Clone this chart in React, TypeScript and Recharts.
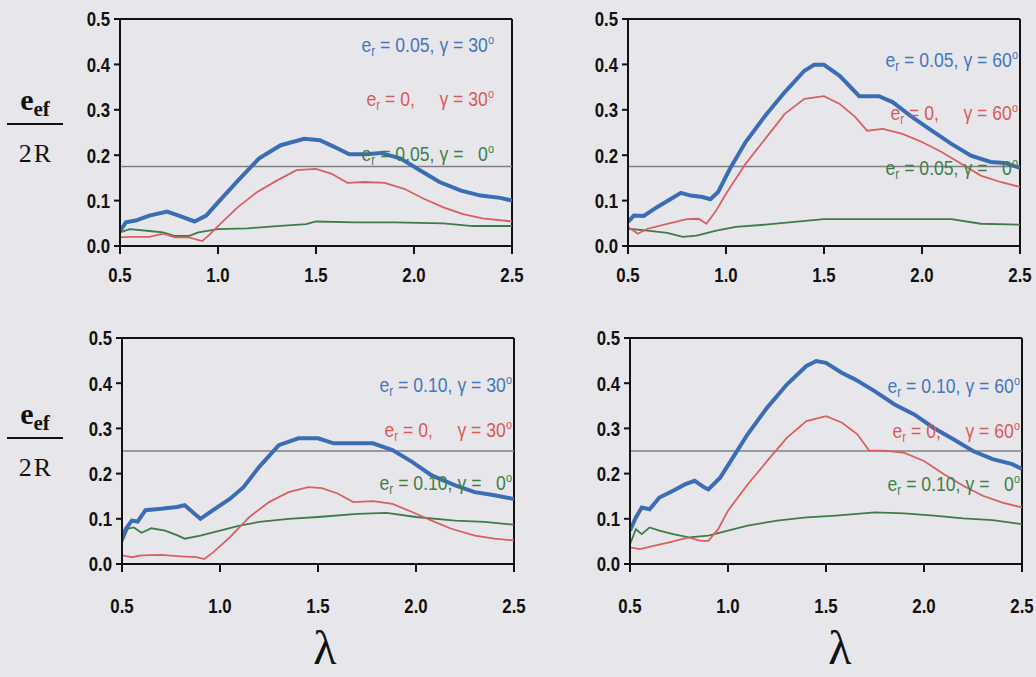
import { LineChart, Line, XAxis, YAxis, ReferenceLine } from "recharts";

// λ sample points and e_ef/2R readings, one pair of arrays per curve
const p1BlueLam = [0.5, 0.53, 0.58, 0.65, 0.74, 0.8, 0.88, 0.94, 1.0, 1.11, 1.21, 1.32, 1.44, 1.52, 1.59, 1.67, 1.76, 1.83, 1.93, 2.03, 2.13, 2.24, 2.34, 2.44, 2.5];
const p1Blue = [0.033, 0.052, 0.056, 0.067, 0.076, 0.067, 0.054, 0.067, 0.096, 0.148, 0.193, 0.222, 0.236, 0.233, 0.219, 0.202, 0.202, 0.205, 0.193, 0.167, 0.141, 0.122, 0.111, 0.106, 0.1];
const p1RedLam = [0.5, 0.55, 0.65, 0.72, 0.78, 0.85, 0.92, 0.96, 1.0, 1.1, 1.2, 1.3, 1.4, 1.5, 1.58, 1.66, 1.75, 1.85, 1.95, 2.05, 2.15, 2.25, 2.35, 2.5];
const p1Red = [0.019, 0.02, 0.02, 0.027, 0.019, 0.019, 0.011, 0.026, 0.044, 0.085, 0.119, 0.144, 0.167, 0.17, 0.159, 0.139, 0.141, 0.139, 0.126, 0.104, 0.085, 0.07, 0.061, 0.054];
const p1GreenLam = [0.5, 0.55, 0.65, 0.72, 0.78, 0.85, 0.9, 1.0, 1.15, 1.3, 1.45, 1.5, 1.7, 1.9, 2.15, 2.3, 2.5];
const p1Green = [0.03, 0.037, 0.033, 0.03, 0.022, 0.022, 0.03, 0.037, 0.039, 0.044, 0.048, 0.054, 0.052, 0.052, 0.05, 0.044, 0.044];

const p2BlueLam = [0.5, 0.53, 0.58, 0.65, 0.72, 0.77, 0.82, 0.88, 0.92, 0.96, 1.02, 1.1, 1.2, 1.3, 1.4, 1.45, 1.5, 1.58, 1.68, 1.78, 1.85, 1.95, 2.05, 2.15, 2.25, 2.35, 2.42, 2.5];
const p2Blue = [0.053, 0.067, 0.066, 0.086, 0.104, 0.117, 0.111, 0.108, 0.103, 0.119, 0.17, 0.229, 0.287, 0.339, 0.386, 0.399, 0.399, 0.375, 0.33, 0.33, 0.317, 0.284, 0.254, 0.225, 0.199, 0.185, 0.183, 0.172];
const p2RedLam = [0.5, 0.55, 0.6, 0.7, 0.8, 0.86, 0.9, 0.95, 1.0, 1.1, 1.2, 1.3, 1.4, 1.5, 1.58, 1.66, 1.72, 1.8, 1.9, 2.0, 2.1, 2.2, 2.3, 2.4, 2.5];
const p2Red = [0.042, 0.027, 0.038, 0.049, 0.059, 0.06, 0.049, 0.078, 0.115, 0.181, 0.236, 0.291, 0.324, 0.33, 0.313, 0.284, 0.254, 0.258, 0.247, 0.229, 0.207, 0.181, 0.155, 0.141, 0.13];
const p2GreenLam = [0.5, 0.6, 0.7, 0.78, 0.85, 0.95, 1.05, 1.2, 1.35, 1.5, 1.7, 2.0, 2.15, 2.3, 2.5];
const p2Green = [0.038, 0.034, 0.029, 0.02, 0.023, 0.034, 0.042, 0.047, 0.053, 0.059, 0.059, 0.059, 0.059, 0.049, 0.047];

const p3BlueLam = [0.5, 0.52, 0.55, 0.58, 0.62, 0.7, 0.78, 0.82, 0.87, 0.9, 0.95, 1.05, 1.12, 1.2, 1.3, 1.4, 1.5, 1.58, 1.68, 1.78, 1.88, 1.98, 2.08, 2.2, 2.3, 2.4, 2.5];
const p3Blue = [0.056, 0.078, 0.096, 0.094, 0.119, 0.122, 0.126, 0.13, 0.111, 0.1, 0.115, 0.144, 0.17, 0.215, 0.263, 0.278, 0.278, 0.267, 0.267, 0.267, 0.252, 0.226, 0.196, 0.174, 0.159, 0.152, 0.144];
const p3RedLam = [0.5, 0.55, 0.6, 0.7, 0.8, 0.88, 0.92, 0.96, 1.05, 1.15, 1.25, 1.35, 1.45, 1.52, 1.6, 1.68, 1.78, 1.88, 1.98, 2.08, 2.18, 2.3, 2.4, 2.5];
const p3Red = [0.019, 0.015, 0.019, 0.02, 0.017, 0.015, 0.011, 0.024, 0.059, 0.104, 0.137, 0.159, 0.17, 0.168, 0.156, 0.137, 0.139, 0.133, 0.115, 0.096, 0.078, 0.063, 0.056, 0.052];
const p3GreenLam = [0.5, 0.53, 0.56, 0.6, 0.65, 0.72, 0.78, 0.82, 0.9, 1.0, 1.1, 1.2, 1.35, 1.5, 1.7, 1.85, 2.0, 2.2, 2.35, 2.5];
const p3Green = [0.048, 0.078, 0.081, 0.069, 0.079, 0.074, 0.064, 0.056, 0.063, 0.074, 0.085, 0.093, 0.1, 0.104, 0.111, 0.113, 0.104, 0.096, 0.093, 0.087];

const p4BlueLam = [0.5, 0.53, 0.56, 0.6, 0.65, 0.72, 0.78, 0.83, 0.88, 0.9, 0.96, 1.02, 1.1, 1.2, 1.3, 1.4, 1.45, 1.5, 1.58, 1.65, 1.75, 1.85, 1.95, 2.05, 2.15, 2.25, 2.35, 2.45, 2.5];
const p4Blue = [0.074, 0.103, 0.125, 0.121, 0.147, 0.162, 0.176, 0.184, 0.169, 0.165, 0.191, 0.232, 0.287, 0.346, 0.397, 0.438, 0.449, 0.445, 0.423, 0.408, 0.382, 0.353, 0.331, 0.301, 0.276, 0.25, 0.232, 0.221, 0.21];
const p4RedLam = [0.5, 0.55, 0.62, 0.7, 0.8, 0.86, 0.9, 0.95, 1.0, 1.1, 1.2, 1.3, 1.4, 1.5, 1.58, 1.66, 1.72, 1.8, 1.9, 2.0, 2.1, 2.2, 2.3, 2.4, 2.5];
const p4Red = [0.037, 0.033, 0.04, 0.048, 0.059, 0.051, 0.051, 0.077, 0.118, 0.176, 0.228, 0.279, 0.316, 0.327, 0.313, 0.287, 0.251, 0.251, 0.246, 0.228, 0.199, 0.173, 0.151, 0.136, 0.125];
const p4GreenLam = [0.5, 0.53, 0.56, 0.6, 0.65, 0.72, 0.8, 0.9, 1.0, 1.1, 1.25, 1.4, 1.55, 1.75, 1.9, 2.05, 2.2, 2.35, 2.5];
const p4Green = [0.044, 0.077, 0.066, 0.081, 0.074, 0.066, 0.059, 0.063, 0.074, 0.085, 0.096, 0.103, 0.107, 0.114, 0.112, 0.107, 0.101, 0.097, 0.088];

const lamTicks = [0.5, 1.0, 1.5, 2.0, 2.5];
const valTicks = [0, 0.1, 0.2, 0.3, 0.4, 0.5];

// horizontal threshold level per row
const thresholdTop = 0.175;
const thresholdBottom = 0.25;

// legend wording: e_r value and γ angle of each curve ("|" wraps the subscript)
const legendTopLeft = ["e|r| = 0.05, γ = 30", "e|r| = 0,     γ = 30", "e|r| = 0.05, γ =   0"];
const legendTopRight = ["e|r| = 0.05, γ = 60", "e|r| = 0,     γ = 60", "e|r| = 0.05, γ =   0"];
const legendBottomLeft = ["e|r| = 0.10, γ = 30", "e|r| = 0,     γ = 30", "e|r| = 0.10, γ =   0"];
const legendBottomRight = ["e|r| = 0.10, γ = 60", "e|r| = 0,     γ = 60", "e|r| = 0.10, γ =   0"];

const BG = "#e7e7eb";
const INK = "#111";
const BLUE = "#3b6db6";
const RED = "#d9605f";
const GREEN = "#3d7b47";
const LEGEND_COLORS = ["#4575be", "#db5a5a", "#3e7f47"];
const SANS = "'Liberation Sans', Arial, sans-serif";
const SERIF = "'Liberation Serif', 'Times New Roman', serif";
// no condensed face installed, so text is squeezed horizontally instead
const SQUEEZE = 0.8;

type Pt = { lam: number; v: number };
const toPts = (lam: number[], v: number[]): Pt[] => lam.map((l, i) => ({ lam: l, v: v[i] }));

const XTick = ({ x, y, payload }: any) => (
    <g transform={`translate(${x},${y}) scale(${SQUEEZE},1)`}>
        <text x={0} y={0} dy="0.71em" textAnchor="middle" fill={INK} fontFamily={SANS} fontWeight={700} fontSize={21}>
            {Number(payload.value).toFixed(1)}
        </text>
    </g>
);

const YTick = ({ x, y, payload }: any) => (
    <g transform={`translate(${x},${y}) scale(${SQUEEZE},1)`}>
        <text x={0} y={0} dy="0.355em" textAnchor="end" fill={INK} fontFamily={SANS} fontWeight={700} fontSize={21}>
            {Number(payload.value).toFixed(1)}
        </text>
    </g>
);

interface PanelProps {
    left: number;
    top: number;
    height: number;
    marginTop: number;
    xAxisHeight: number;
    tickGap: number;
    blue: Pt[];
    red: Pt[];
    green: Pt[];
    threshold: number;
}

const Panel = ({ left, top, height, marginTop, xAxisHeight, tickGap, blue, red, green, threshold }: PanelProps) => (
    <div style={{ position: "absolute", left, top }}>
        <LineChart width={480} height={height} margin={{ top: marginTop, right: 32, left: 0, bottom: 0 }}>
            <XAxis
                type="number"
                dataKey="lam"
                domain={[0.5, 2.5]}
                ticks={lamTicks}
                interval={0}
                allowDataOverflow
                height={xAxisHeight}
                tickSize={8}
                tickMargin={tickGap}
                axisLine={{ stroke: INK, strokeWidth: 2 }}
                tickLine={{ stroke: INK, strokeWidth: 2 }}
                tick={<XTick />}
            />
            <YAxis
                type="number"
                domain={[0, 0.5]}
                ticks={valTicks}
                interval={0}
                allowDataOverflow
                width={56}
                tickSize={6}
                tickMargin={4}
                axisLine={{ stroke: INK, strokeWidth: 2 }}
                tickLine={{ stroke: INK, strokeWidth: 2 }}
                tick={<YTick />}
            />
            {/* box frame: top and right edges */}
            <ReferenceLine y={0.5} stroke={INK} strokeWidth={2} ifOverflow="visible" />
            <ReferenceLine x={2.5} stroke={INK} strokeWidth={2} ifOverflow="visible" />
            <ReferenceLine y={threshold} stroke="#7d7f80" strokeWidth={1.5} />
            <Line data={green} dataKey="v" type="linear" stroke={GREEN} strokeWidth={1.8} dot={false} isAnimationActive={false} />
            <Line data={red} dataKey="v" type="linear" stroke={RED} strokeWidth={1.8} dot={false} isAnimationActive={false} />
            <Line data={blue} dataKey="v" type="linear" stroke={BLUE} strokeWidth={4} dot={false} isAnimationActive={false} />
        </LineChart>
    </div>
);

// "e|r| rest" -> e with subscript r, then the rest and a degree mark
const LegendLine = ({ text, x, y, color }: { text: string; x: number; y: number; color: string }) => {
    const [head, sub, rest] = text.split("|");
    return (
        <g transform={`translate(${x},${y}) scale(0.84,1)`}>
            <text x={0} y={0} textAnchor="end" fill={color} fontFamily={SANS} fontSize={21} xmlSpace="preserve">
                {head}
                <tspan fontSize={14} dy={4}>{sub}</tspan>
                <tspan dy={-4}>{rest}</tspan>
                <tspan fontSize={13} dy={-8}>o</tspan>
            </text>
        </g>
    );
};

const Legend = ({ lines, x, ys }: { lines: string[]; x: number; ys: number[] }) => (
    <g>
        {lines.map((t, i) => (
            <LegendLine key={i} text={t} x={x} y={ys[i]} color={LEGEND_COLORS[i]} />
        ))}
    </g>
);

const YLabel = ({ y }: { y: number }) => (
    <g>
        <text x={35} y={y} textAnchor="middle" fontFamily={SERIF} fontWeight={700} fontSize={30} fill={INK}>
            e<tspan fontSize={21} dy={6}>ef</tspan>
        </text>
        <line x1={7} x2={63} y1={y + 14} y2={y + 14} stroke={INK} strokeWidth={2} />
        <text x={36} y={y + 52} textAnchor="middle" fontFamily={SERIF} fontSize={26} letterSpacing={2} fill={INK}>
            2R
        </text>
    </g>
);

export default function App() {
    return (
        <div style={{ position: "fixed", left: 0, top: 0, width: 1036, height: 677, background: BG, overflow: "hidden" }}>
            <Panel left={64} top={0} height={300} marginTop={19} xAxisHeight={54} tickGap={13} threshold={thresholdTop}
                blue={toPts(p1BlueLam, p1Blue)} red={toPts(p1RedLam, p1Red)} green={toPts(p1GreenLam, p1Green)} />
            <Panel left={572} top={0} height={300} marginTop={19} xAxisHeight={54} tickGap={13} threshold={thresholdTop}
                blue={toPts(p2BlueLam, p2Blue)} red={toPts(p2RedLam, p2Red)} green={toPts(p2GreenLam, p2Green)} />
            <Panel left={66} top={300} height={330} marginTop={38} xAxisHeight={66} tickGap={26} threshold={thresholdBottom}
                blue={toPts(p3BlueLam, p3Blue)} red={toPts(p3RedLam, p3Red)} green={toPts(p3GreenLam, p3Green)} />
            <Panel left={574} top={300} height={330} marginTop={38} xAxisHeight={66} tickGap={26} threshold={thresholdBottom}
                blue={toPts(p4BlueLam, p4Blue)} red={toPts(p4RedLam, p4Red)} green={toPts(p4GreenLam, p4Green)} />
            <svg width={1036} height={677} style={{ position: "absolute", left: 0, top: 0, pointerEvents: "none" }}>
                <YLabel y={110} />
                <YLabel y={424} />
                <Legend lines={legendTopLeft} x={494} ys={[52, 106, 161]} />
                <Legend lines={legendTopRight} x={1018} ys={[67, 120, 175]} />
                <Legend lines={legendBottomLeft} x={512} ys={[392, 437, 490]} />
                <Legend lines={legendBottomRight} x={1020} ys={[393, 438, 491]} />
                <text x={325} y={664} textAnchor="middle" fontFamily={SERIF} fontSize={48} fill={INK}>λ</text>
                <text x={840} y={664} textAnchor="middle" fontFamily={SERIF} fontSize={48} fill={INK}>λ</text>
            </svg>
        </div>
    );
}
